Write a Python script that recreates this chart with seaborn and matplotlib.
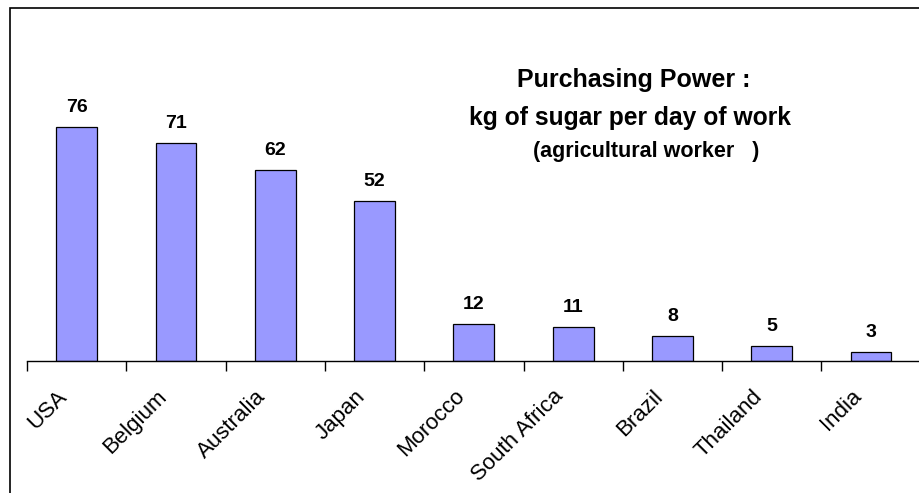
import matplotlib.pyplot as plt
import matplotlib.transforms as mtransforms
import seaborn as sns
import pandas as pd
from matplotlib.patches import Rectangle

countries = ['USA', 'Belgium', 'Australia', 'Japan', 'Morocco', 'South Africa', 'Brazil', 'Thailand', 'India']
kg_sugar = [76, 71, 62, 52, 12, 11, 8, 5, 3]

df = pd.DataFrame({'country': countries, 'kg': kg_sugar})

sns.set_style('white')
plt.rcParams['font.family'] = ['Liberation Sans', 'DejaVu Sans']
plt.rcParams['text.color'] = 'black'
plt.rcParams['xtick.color'] = 'black'
plt.rcParams['xtick.labelcolor'] = 'black'

fig = plt.figure(figsize=(9.19, 4.93), dpi=100)
# axes: left at x=27px, baseline at y=361px, category width ~99.3px
W, H = 919, 493
x0, x1 = 27, 27 + 99.3 * 9
y_base, y_top = 361, 8
ax = fig.add_axes([x0 / W, 1 - y_base / H, (x1 - x0) / W, (y_base - y_top) / H])

sns.barplot(data=df, x='country', y='kg', ax=ax, color='#9999FF', width=0.41,
            edgecolor='black', linewidth=0.9, saturation=1)
ax.set_xlim(-0.5, 8.5)
ax.set_ylim(0, (y_base - y_top) / 3.075)

for i, v in enumerate(kg_sugar):
    ax.annotate(str(v), (i, v), xytext=(0, 8), textcoords='offset points',
                ha='center', va='bottom', fontsize=14, fontweight='bold', color='black')

for s in ['top', 'right', 'left']:
    ax.spines[s].set_visible(False)
ax.spines['bottom'].set_linewidth(1)
ax.spines['bottom'].set_color('black')
ax.set_yticks([])
ax.set_xlabel('')
ax.set_ylabel('')

# ticks at category boundaries
ax.set_xticks(range(9))
ax.set_xticks([i - 0.5 for i in range(9)], minor=True)
ax.tick_params(axis='x', which='minor', bottom=True, length=7, width=1, color='black', direction='out')
ax.tick_params(axis='x', which='major', bottom=False, length=0, pad=10)
ax.set_xticklabels(countries, rotation=45, ha='right', rotation_mode='anchor', fontsize=16)
shift = mtransforms.ScaledTranslation(-20 / 100, -11 / 100, fig.dpi_scale_trans)
for lbl in ax.get_xticklabels():
    lbl.set_transform(lbl.get_transform() + shift)

fig.text(634 / W, 1 - 80 / H, 'Purchasing Power :', ha='center', va='center',
         fontsize=18, fontweight='bold')
fig.text(630 / W, 1 - 118 / H, 'kg of sugar per day of work', ha='center', va='center',
         fontsize=17.7, fontweight='bold')
fig.text(646 / W, 1 - 152 / H, '(agricultural worker   )', ha='center', va='center',
         fontsize=15.5, fontweight='bold')

# outer frame
fig.patches.append(Rectangle((10 / W, -0.05), 1.0, 1 - 8 / H + 0.05, transform=fig.transFigure,
                             fill=False, edgecolor='black', linewidth=1.2))

fig.savefig('out.png', dpi=100)
